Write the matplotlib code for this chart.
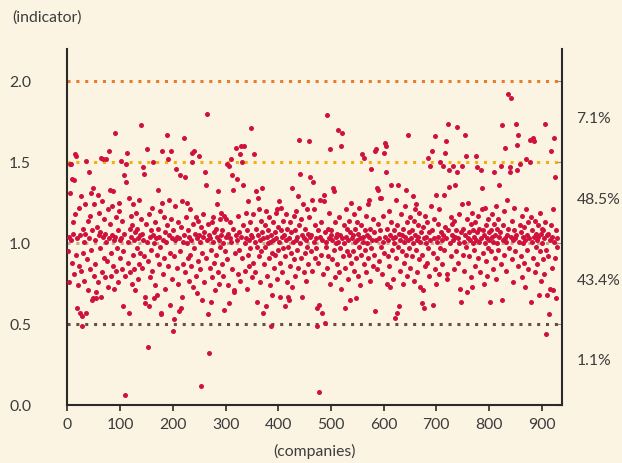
import numpy as np
import matplotlib.pyplot as plt

# indicator value per company, rows of 10 companies (1-10, 11-20, ...)
y_000 = [0.95, 1.04, 0.76, 1.31, 1.49, 1.02, 1.49, 1.40, 0.88, 1.13,
         1.06, 1.39, 0.81, 1.55, 1.18, 0.93, 1.54, 0.60, 1.03, 0.74,
         1.22, 0.86, 1.05, 0.57, 0.83, 1.29, 0.55, 0.49, 1.09, 0.94,
         1.01, 0.77, 1.24, 1.06, 1.51, 0.57, 0.90, 1.14, 0.71, 1.44,
         1.03, 0.84, 1.17, 0.96, 1.31, 0.65, 1.08, 1.34, 0.66, 0.80,
         1.24, 1.02, 0.87, 0.66, 0.70, 1.10, 1.30, 0.76, 1.05, 1.19,
         0.97, 1.07, 1.53, 0.67, 1.26, 0.82, 1.04, 1.52, 0.91, 1.15,
         0.79, 1.06, 1.01, 1.52, 0.89, 1.21, 0.73, 1.03, 1.57, 1.33,
         1.12, 0.94, 0.80, 1.05, 1.23, 1.32, 0.86, 1.02, 0.72, 1.68,
         1.04, 0.83, 1.16, 0.97, 1.08, 0.76, 1.20, 1.25, 0.91, 1.02]
y_100 = [1.51, 1.03, 0.84, 1.14, 0.61, 0.95, 1.42, 1.06, 0.06, 0.80,
         1.38, 1.49, 1.56, 1.01, 0.88, 1.28, 0.57, 1.09, 0.82, 1.17,
         1.04, 0.75, 1.11, 0.93, 1.24, 1.02, 0.84, 1.07, 0.71, 1.19,
         0.97, 1.09, 0.78, 1.03, 1.27, 0.87, 1.05, 0.94, 1.73, 1.15,
         1.06, 0.85, 1.02, 1.47, 0.92, 1.43, 0.67, 0.63, 1.12, 1.58,
         1.01, 0.89, 0.36, 1.18, 0.61, 1.04, 0.79, 1.08, 0.96, 1.22,
         0.83, 1.05, 1.50, 1.00, 0.66, 1.13, 0.74, 1.03, 0.68, 0.93,
         1.09, 1.33, 0.87, 1.04, 1.20, 0.98, 0.56, 0.57, 1.57, 1.25,
         1.02, 0.81, 1.16, 0.91, 1.07, 0.72, 1.01, 1.11, 1.67, 0.86,
         1.52, 1.05, 1.27, 0.62, 0.94, 1.57, 1.15, 0.78, 1.03, 0.46]
y_200 = [1.08, 0.92, 0.53, 1.02, 1.23, 1.46, 0.85, 1.04, 0.75, 1.13,
         0.58, 1.03, 1.42, 0.95, 0.60, 1.10, 0.67, 1.26, 1.01, 0.87,
         1.05, 1.65, 1.41, 0.82, 1.16, 1.25, 1.00, 0.91, 1.08, 0.77,
         1.04, 0.93, 1.21, 0.86, 1.02, 1.56, 1.50, 0.73, 1.12, 1.57,
         0.97, 1.06, 1.16, 0.80, 0.69, 1.03, 1.14, 0.89, 1.05, 1.54,
         1.01, 0.84, 1.10, 0.12, 0.94, 0.65, 1.18, 1.04, 0.76, 1.07,
         1.44, 0.91, 1.36, 1.02, 1.80, 1.12, 0.56, 0.32, 1.05, 0.85,
         1.03, 0.64, 0.96, 1.13, 0.79, 1.16, 1.01, 0.88, 1.07, 0.71,
         1.09, 0.93, 1.04, 1.24, 0.82, 1.32, 1.02, 0.75, 1.15, 0.98,
         1.19, 1.05, 0.87, 1.08, 1.00, 0.80, 0.59, 1.17, 0.95, 1.04]
y_300 = [1.15, 0.90, 1.49, 1.06, 0.74, 1.48, 0.63, 1.03, 1.13, 1.52,
         1.01, 0.84, 1.42, 1.09, 1.33, 0.70, 0.71, 0.94, 1.59, 1.05,
         1.40, 1.02, 0.81, 1.17, 0.96, 1.07, 1.55, 0.77, 1.60, 1.04,
         1.50, 0.91, 1.11, 1.36, 1.60, 1.00, 0.83, 1.19, 1.03, 0.72,
         1.08, 0.93, 1.26, 1.02, 0.86, 1.13, 0.97, 1.71, 1.05, 0.79,
         1.04, 0.88, 1.18, 1.55, 1.01, 0.82, 1.09, 1.32, 0.64, 0.98,
         1.28, 1.05, 1.21, 0.92, 1.02, 0.76, 1.14, 0.95, 1.34, 1.07,
         0.57, 1.03, 0.87, 1.11, 0.98, 0.61, 1.20, 0.80, 1.04, 1.00,
         1.08, 0.91, 1.16, 1.01, 0.74, 0.49, 1.05, 0.68, 0.94, 1.13,
         1.02, 0.85, 1.07, 0.93, 1.19, 1.03, 1.21, 0.78, 1.10, 0.96]
y_400 = [1.26, 1.01, 0.88, 0.67, 1.08, 1.22, 0.82, 1.04, 0.97, 1.14,
         1.05, 0.92, 0.61, 1.02, 1.18, 0.76, 1.09, 0.98, 0.67, 0.65,
         1.03, 0.86, 1.13, 0.94, 1.07, 1.34, 0.73, 1.01, 1.17, 0.90,
         1.08, 0.80, 1.02, 1.20, 0.96, 1.04, 1.29, 0.85, 1.11, 1.64,
         1.00, 1.43, 0.91, 1.15, 1.05, 0.67, 1.24, 0.82, 1.03, 0.94,
         1.09, 0.77, 1.02, 1.21, 0.98, 1.06, 0.87, 1.16, 1.63, 1.04,
         1.41, 0.95, 1.05, 1.27, 0.83, 1.38, 1.01, 1.21, 0.91, 1.11,
         1.03, 0.97, 0.60, 0.49, 1.08, 0.88, 0.62, 0.08, 1.27, 1.04,
         1.13, 0.93, 0.57, 1.02, 0.81, 1.26, 1.30, 0.51, 1.07, 0.98,
         1.01, 0.85, 1.79, 1.09, 0.92, 1.19, 1.03, 1.58, 0.75, 1.05]
y_500 = [1.08, 0.90, 1.02, 1.34, 0.96, 1.32, 1.13, 0.79, 1.04, 1.00,
         0.87, 1.06, 1.70, 1.01, 0.82, 1.16, 0.97, 1.05, 0.72, 1.60,
         1.03, 1.68, 0.92, 1.11, 1.00, 0.85, 0.60, 1.21, 1.04, 0.95,
         1.09, 0.78, 1.02, 1.14, 0.93, 1.07, 0.65, 1.25, 0.88, 1.03,
         1.05, 0.95, 1.18, 0.83, 1.01, 1.09, 0.66, 0.91, 1.13, 1.02,
         0.80, 1.06, 0.98, 1.22, 1.03, 0.74, 1.11, 0.93, 1.55, 1.04,
         1.01, 1.53, 0.87, 1.08, 0.96, 1.17, 0.82, 1.05, 1.00, 1.24,
         0.91, 1.04, 1.27, 0.77, 1.09, 1.46, 0.97, 1.02, 1.15, 0.86,
         1.07, 0.93, 0.58, 1.57, 1.58, 1.02, 1.34, 0.84, 1.33, 1.12,
         1.03, 0.89, 1.28, 1.08, 1.28, 0.98, 0.81, 1.17, 1.01, 0.94]
y_600 = [1.56, 1.62, 1.04, 1.60, 1.44, 0.75, 1.09, 0.92, 1.02, 1.20,
         0.86, 1.05, 0.73, 1.13, 1.36, 0.96, 1.03, 0.78, 1.08, 1.00,
         0.54, 1.04, 1.27, 0.91, 0.57, 1.11, 0.98, 1.36, 0.61, 1.06,
         1.02, 0.83, 1.18, 0.95, 1.05, 0.75, 1.09, 1.01, 0.88, 1.23,
         1.04, 1.33, 0.93, 1.13, 0.80, 1.02, 1.67, 1.07, 0.97, 1.16,
         0.85, 1.03, 1.08, 0.92, 1.00, 1.29, 0.77, 1.14, 1.05, 1.21,
         0.96, 1.24, 1.02, 0.82, 1.11, 1.04, 0.90, 1.19, 1.01, 0.73,
         1.07, 0.93, 0.63, 0.71, 1.10, 1.03, 0.60, 1.17, 0.86, 1.00,
         1.04, 0.88, 1.13, 1.53, 0.97, 1.07, 0.80, 1.48, 1.02, 1.23,
         1.08, 1.57, 0.94, 0.62, 1.03, 1.15, 1.66, 0.84, 0.75, 1.30]
y_700 = [1.01, 0.91, 1.12, 1.04, 0.81, 1.21, 0.97, 1.50, 1.07, 1.02,
         0.87, 1.48, 1.05, 1.30, 0.96, 1.56, 1.10, 1.63, 1.03, 0.78,
         0.81, 1.08, 1.74, 1.35, 1.45, 1.00, 1.16, 0.92, 1.05, 1.12,
         1.48, 1.02, 0.84, 1.14, 1.04, 1.36, 0.95, 1.08, 1.44, 1.72,
         1.03, 0.88, 1.18, 1.00, 0.72, 0.64, 1.07, 1.24, 1.48, 0.93,
         1.09, 1.01, 0.83, 1.05, 1.67, 0.98, 1.54, 1.15, 0.70, 1.03,
         1.25, 0.92, 1.07, 1.02, 0.79, 1.12, 0.73, 1.19, 1.00, 1.08,
         0.96, 1.04, 1.13, 0.86, 1.02, 1.54, 1.47, 1.07, 0.91, 1.17,
         1.01, 1.09, 0.82, 1.03, 1.45, 1.21, 1.34, 0.94, 1.08, 0.75,
         1.05, 1.00, 1.22, 0.89, 1.11, 1.03, 0.80, 1.15, 0.97, 1.07]
y_800 = [1.02, 0.64, 1.08, 0.95, 1.18, 1.04, 0.84, 1.01, 1.44, 1.12,
         0.91, 1.05, 1.23, 0.78, 1.09, 1.00, 1.15, 0.96, 1.36, 1.04,
         1.07, 0.87, 1.48, 1.73, 0.65, 1.02, 1.11, 0.93, 1.20, 1.03,
         1.59, 1.01, 0.83, 1.05, 1.27, 1.92, 1.09, 0.97, 1.44, 1.47,
         1.90, 1.04, 0.90, 1.14, 1.02, 0.76, 1.08, 1.22, 0.95, 1.03,
         1.05, 1.74, 1.45, 1.61, 0.86, 1.67, 1.01, 1.11, 1.49, 0.92,
         1.07, 0.79, 1.17, 1.00, 1.04, 0.88, 1.10, 0.73, 1.02, 1.52,
         1.21, 0.96, 1.05, 1.13, 0.84, 1.03, 1.64, 1.50, 1.16, 0.64,
         1.01, 1.08, 0.91, 1.65, 1.04, 1.63, 0.82, 1.14, 0.98, 1.06,
         1.02, 0.87, 1.11, 1.04, 0.68, 1.19, 0.95, 1.06, 0.77, 1.09]
y_900 = [1.00, 0.90, 1.08, 0.81, 1.03, 1.74, 1.13, 0.44, 0.96, 1.05,
         0.68, 1.06, 0.92, 0.56, 1.02, 0.72, 1.11, 1.57, 0.85, 1.04,
         0.71, 1.21, 1.01, 1.65, 1.41, 0.91, 0.66, 1.08, 0.98, 1.03]

thresholds = [0.5, 1.0, 1.5, 2.0]
threshold_colors = ['#6d4c3d', '#c9a97e', '#f1b20f', '#e97b2c']
band_shares = ['1.1%', '43.4%', '48.5%', '7.1%']
ytick_labels = ['0.0', '0.5', '1.0', '1.5', '2.0']

values = np.array(y_000 + y_100 + y_200 + y_300 + y_400 + y_500
                  + y_600 + y_700 + y_800 + y_900)
companies = np.arange(1, len(values) + 1)

bg = '#fcf4e3'
txt = '#3c3c3c'
fs = 11.3
plt.rcParams['font.family'] = ['Lato', 'DejaVu Sans']

fig = plt.figure(figsize=(6.22, 4.63), dpi=100, facecolor=bg)
ax = fig.add_axes([0.1085, 0.125, 0.7945, 0.769])
ax.set_facecolor(bg)

for t, c in zip(thresholds, threshold_colors):
    ax.axhline(t, color=c, lw=2.2, linestyle=(0, (1, 1.9)),
               dash_capstyle='butt', zorder=2)

ax.scatter(companies, values, s=13, color='#d0103e', linewidths=0, zorder=3)

ax.set_xlim(0, 938)
ax.set_ylim(0, 2.2)
ax.set_xticks(np.arange(0, 1000, 100))
ax.set_yticks([float(v) for v in ytick_labels])
ax.set_yticklabels(ytick_labels)

for s in ['left', 'right', 'bottom']:
    ax.spines[s].set_color('#2a2a2a')
    ax.spines[s].set_linewidth(1.5)
ax.spines['top'].set_visible(False)

ax.tick_params(axis='y', which='both', left=False, right=True, direction='in',
               length=4, color='#888888', labelsize=fs, labelcolor=txt, pad=42)
ax.tick_params(axis='y', labelleft=True)
for lbl in ax.get_yticklabels():
    lbl.set_horizontalalignment('left')
ax.tick_params(axis='x', direction='out', length=4, width=1.2, color='#2a2a2a',
               labelsize=fs, labelcolor=txt, pad=5)

# percentage of companies in each band, placed at the band middle
edges = [0.0] + thresholds
for i, share in enumerate(band_shares):
    mid = (edges[i] + edges[i + 1]) / 2
    ax.text(1.03, mid + 0.02, share, transform=ax.get_yaxis_transform(),
            ha='left', va='center', fontsize=fs, color=txt)

fig.text(0.019, 0.963, '(indicator)', ha='left', va='center', fontsize=fs, color=txt)
fig.text(0.506, 0.024, '(companies)', ha='center', va='center', fontsize=fs, color=txt)

fig.savefig('out.png', dpi=100, facecolor=bg)
